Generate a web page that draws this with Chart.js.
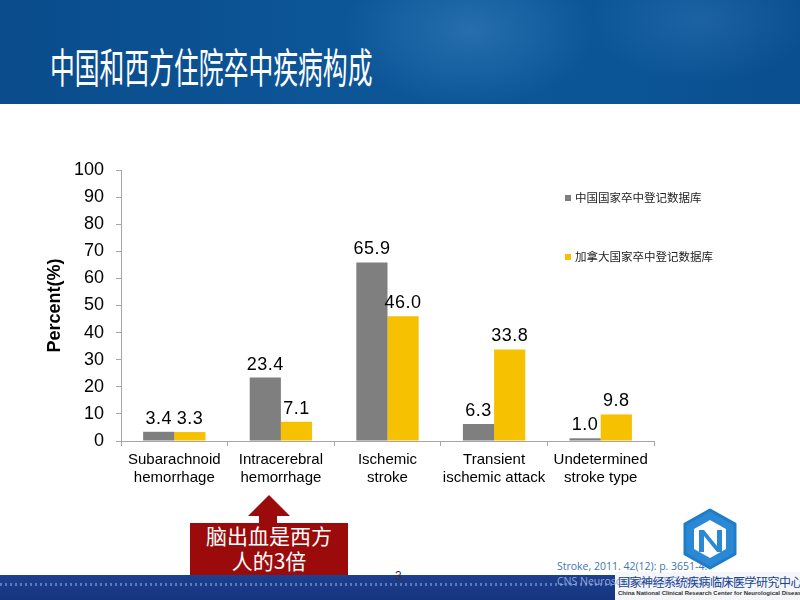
<!DOCTYPE html>
<html>
<head>
<meta charset="utf-8">
<script src="https://cdn.jsdelivr.net/npm/chart.js@4.4.0/dist/chart.umd.min.js"></script>
<style>
  html,body{margin:0;padding:0;}
  body{width:800px;height:600px;position:relative;overflow:hidden;background:#fff;font-family:"Liberation Sans",Arial,sans-serif;}
  #header{position:absolute;left:0;top:0;width:800px;height:104px;
    background:
      radial-gradient(ellipse 180px 110px at 470px 30px, rgba(70,140,200,0.45), rgba(70,140,200,0) 70%),
      radial-gradient(ellipse 160px 90px at 700px 20px, rgba(60,130,195,0.35), rgba(60,130,195,0) 70%),
      linear-gradient(90deg,#0a4c8c 0%,#0c5698 45%,#0b5597 75%,#0a4f8f 100%);}
  #title{position:absolute;left:50px;top:37px;color:#fff;font-family:"Noto Sans CJK SC",sans-serif;font-size:41px;font-weight:400;
    white-space:nowrap;transform:scaleX(0.605);transform-origin:0 0;line-height:56px;}
  #footer{position:absolute;left:0;top:575px;width:800px;height:25px;background:linear-gradient(180deg,#1d3f8f 0%,#163580 100%);}
  #dots{position:absolute;left:0;top:583px;width:800px;height:3px;
    background:repeating-linear-gradient(90deg,#7d93c8 0 2px,transparent 2px 5px);opacity:0.7;}
  #logobg{position:absolute;left:615px;top:572px;width:185px;height:28px;background:#f4f6fa;}
  #callout{position:absolute;left:190px;top:523px;width:158px;height:52px;background:#9c0b0b;color:#fff;
    font-family:"Noto Sans CJK SC",sans-serif;font-size:21px;line-height:25px;text-align:center;}
  #arrowhead{position:absolute;left:248px;top:495px;width:0;height:0;border-left:21px solid transparent;border-right:21px solid transparent;border-bottom:21px solid #9c0b0b;}
  #arrowstem{position:absolute;left:259px;top:515px;width:18px;height:9px;background:#9c0b0b;}
  #cite1{position:absolute;left:557px;top:559px;font-family:"Open Sans","Liberation Sans",sans-serif;font-size:10.5px;color:#3f74b0;white-space:nowrap;}
  #cite2{position:absolute;left:557px;top:574px;font-family:"Open Sans","Liberation Sans",sans-serif;font-size:10.5px;color:#8ea8d8;white-space:nowrap;}
  #logocn{position:absolute;left:618px;top:573px;font-family:"Noto Sans CJK SC",sans-serif;font-size:12px;color:#22428f;white-space:nowrap;letter-spacing:-0.5px;}
  #logoen{position:absolute;left:618px;top:590px;font-family:"Liberation Sans",sans-serif;font-size:6px;font-weight:bold;color:#333;white-space:nowrap;}
  #pagenum{position:absolute;left:395px;top:569px;font-size:12px;color:#333;}
  #logo{position:absolute;left:682px;top:508px;}
  #chart{position:absolute;left:0;top:0;}
</style>
</head>
<body>
<div id="header"></div>
<div id="title">中国和西方住院卒中疾病构成</div>
<div id="footer"></div>
<div id="dots"></div>
<div id="logobg"></div>
<svg id="logo" width="56" height="62" viewBox="0 0 56 62">
  <polygon points="28,2 53,16 53,46 28,60 3,46 3,16" fill="#2a88d4" stroke="#1f7cc8" stroke-width="3" stroke-linejoin="round"/>
  <polygon points="28,12 44,21 44,41 28,50 12,41 12,21" fill="#fff"/>
  <path d="M17,44 L17,22 L22,22 L35,38 L35,22 L40,22 L40,44 L35,44 L22,28 L22,44 Z" fill="#2a88d4"/>
</svg>
<div id="arrowhead"></div>
<div id="arrowstem"></div>
<div id="callout">脑出血是西方<br>人的3倍</div>
<div id="cite1">Stroke, 2011. 42(12): p. 3651-4.</div>
<div id="cite2">CNS Neurosci Ther. 2013. 19(9): 779-80</div>
<div id="logocn">国家神经系统疾病临床医学研究中心</div>
<div id="logoen">China National Clinical Research Center for Neurological Diseases</div>
<div id="pagenum">3</div>
<canvas id="chart" width="800" height="600"></canvas>
<script>
const categories = [
  ["Subarachnoid", "hemorrhage"],
  ["Intracerebral", "hemorrhage"],
  ["Ischemic", "stroke"],
  ["Transient", "ischemic attack"],
  ["Undetermined", "stroke type"]
];
const seriesNames = ["中国国家卒中登记数据库", "加拿大国家卒中登记数据库"];
const chinaValues = [3.4, 23.4, 65.9, 6.3, 1.0];
const canadaValues = [3.3, 7.1, 46.0, 33.8, 9.8];
const yAxisTitle = "Percent(%)";
const yMin = 0, yMax = 100, yStep = 10;

const seriesColors = ["#7f7f7f", "#f5c100"];
const axisColor = "#a6a6a6";
const latin = '"Liberation Sans", Arial, sans-serif';
const cjk = '"Noto Sans CJK SC", sans-serif';

const valueLabels = {
  id: 'valueLabels',
  afterDatasetsDraw(chart) {
    const ctx = chart.ctx;
    ctx.save();
    ctx.font = '18px ' + latin;
    try { ctx.letterSpacing = '0.5px'; } catch (e) {}
    ctx.fillStyle = '#000';
    ctx.textAlign = 'center';
    ctx.textBaseline = 'alphabetic';
    chart.data.datasets.forEach((ds, i) => {
      const meta = chart.getDatasetMeta(i);
      meta.data.forEach((bar, j) => {
        ctx.fillText(ds.data[j].toFixed(1), bar.x, bar.y - 8);
      });
    });
    ctx.restore();
  }
};

const sideLegend = {
  id: 'sideLegend',
  afterDraw(chart) {
    const ctx = chart.ctx;
    ctx.save();
    ctx.font = '11.5px ' + cjk;
    ctx.textBaseline = 'middle';
    const x0 = 565, ys = [198, 257];
    chart.data.datasets.forEach((ds, i) => {
      ctx.fillStyle = ds.backgroundColor;
      ctx.fillRect(x0, ys[i] - 3, 6, 6);
      ctx.fillStyle = '#222';
      ctx.fillText(ds.label, x0 + 10, ys[i]);
    });
    ctx.restore();
  }
};

new Chart(document.getElementById('chart'), {
  type: 'bar',
  data: {
    labels: categories,
    datasets: [
      { label: seriesNames[0], data: chinaValues, backgroundColor: seriesColors[0] },
      { label: seriesNames[1], data: canadaValues, backgroundColor: seriesColors[1] }
    ]
  },
  options: {
    responsive: false,
    animation: false,
    devicePixelRatio: 1,
    layout: { padding: { left: 40, top: 170, right: 146, bottom: 109 } },
    datasets: { bar: { categoryPercentage: 0.585, barPercentage: 1.0 } },
    plugins: { legend: { display: false }, tooltip: { enabled: false } },
    scales: {
      x: {
        grid: { display: true, drawOnChartArea: false, tickLength: 5, color: axisColor, offset: true },
        border: { color: axisColor },
        ticks: { font: { family: latin, size: 15 }, color: '#000', padding: 5, maxRotation: 0, autoSkip: false },
        afterFit(scale) { scale.height = 50; }
      },
      y: {
        min: yMin, max: yMax,
        grid: { display: true, drawOnChartArea: false, tickLength: 5, color: axisColor },
        border: { color: axisColor },
        ticks: { stepSize: yStep, font: { family: latin, size: 18 }, color: '#000', padding: 12 },
        title: { display: true, text: yAxisTitle, font: { family: latin, size: 18, weight: 'bold' }, color: '#000', padding: { top: 4, bottom: 4 } },
        afterFit(scale) { scale.width = 81; }
      }
    }
  },
  plugins: [valueLabels, sideLegend]
});
</script>
</body>
</html>
